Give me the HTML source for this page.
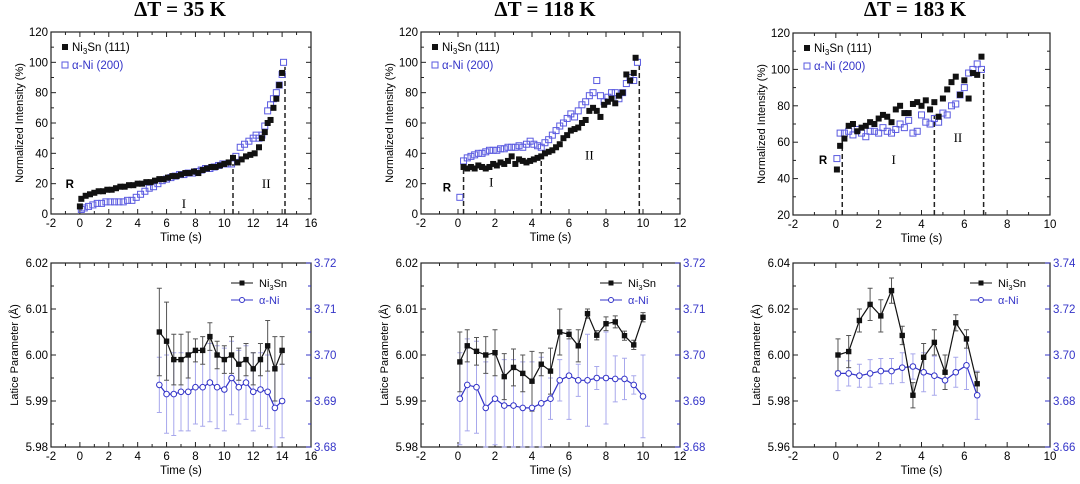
<!DOCTYPE html>
<html><head><meta charset="utf-8"><style>
body{margin:0;background:#fff;width:1080px;height:484px;overflow:hidden}
svg{display:block;font-family:"Liberation Sans",sans-serif}
.ttl{font-family:"Liberation Serif",serif;font-weight:bold;font-size:21px}
.tk{font-size:11.5px}
.rn{font-family:"Liberation Serif",serif;font-size:13px}
</style></head><body>
<svg id="fig" width="1080" height="484" viewBox="0 0 1080 484"></svg>
<script>
// ---- Panel 1 (ΔT=35K) intensity ----
const p1NiSnT=[0,0.1,0.4,0.7,1,1.3,1.6,1.9,2.2,2.5,2.8,3.1,3.4,3.7,4,4.3,4.6,4.9,5.2,5.5,5.8,6.1,6.4,6.7,7,7.3,7.6,7.9,8.2,8.5,8.8,9.1,9.4,9.7,10,10.3,10.6,10.9,11.2,11.5,11.8,12.1,12.4,12.6,12.8,13,13.2,13.4,13.6,13.8,14];
const p1NiSnV=[5,10,12,13,14,15,15,16,16,17,18,18,19,19,20,20,21,21,22,23,23,24,25,25,26,27,27,28,27,29,30,31,31,32,33,34,37,34,36,38,39,40,44,50,54,60,62,70,76,85,93];
const p1NiT=[0.1,0.3,0.6,0.9,1.2,1.5,1.8,2.1,2.4,2.7,3,3.3,3.6,3.9,4.2,4.5,4.8,5.1,5.4,5.7,6,6.3,6.6,6.9,7.2,7.5,7.8,8.1,8.4,8.7,9,9.3,9.6,9.9,10.2,10.5,10.8,11.1,11.4,11.7,12,12.2,12.4,12.6,12.8,13,13.2,13.4,13.6,13.8,14,14.1];
const p1NiV=[3,4,5,6,7,7,8,8,8,8,8,9,9,11,13,15,17,18,20,22,23,24,25,26,26,27,27,28,29,30,30,31,32,33,33,33,38,44,46,48,50,52,50,52,58,68,72,76,80,85,92,100];
const p1Dash=[[10.6,33],[14.2,97]];
// ---- Panel 2 (ΔT=118K) intensity ----
const p2NiSnT=[0.3,0.5,0.7,0.9,1.1,1.3,1.5,1.7,1.9,2.1,2.3,2.5,2.7,2.9,3.1,3.3,3.5,3.7,3.9,4.1,4.3,4.5,4.7,4.9,5.1,5.3,5.5,5.7,5.9,6.1,6.3,6.5,6.7,6.9,7.1,7.3,7.5,7.7,7.9,8.1,8.3,8.5,8.7,8.9,9.1,9.3,9.5,9.6];
const p2NiSnV=[31,30,31,30,32,31,30,31,33,32,34,33,35,38,33,36,35,34,35,36,37,38,40,41,42,44,46,50,52,55,56,57,60,62,68,70,68,64,72,74,76,73,78,80,92,88,93,103];
const p2NiT=[0.1,0.3,0.5,0.7,0.9,1.1,1.3,1.5,1.7,1.9,2.1,2.3,2.5,2.7,2.9,3.1,3.3,3.5,3.7,3.9,4.1,4.3,4.5,4.7,4.9,5.1,5.3,5.5,5.7,5.9,6.1,6.3,6.5,6.7,6.9,7.1,7.3,7.5,7.7,7.9,8.1,8.3,8.5,8.7,8.9,9.1,9.3,9.5,9.7];
const p2NiV=[11,35,37,38,39,40,40,41,42,42,42,43,43,44,44,44,45,44,46,48,46,45,44,47,49,52,55,58,60,63,66,64,68,72,74,78,80,88,78,74,77,80,80,76,80,86,90,88,100];
const p2Dash=[[0.3,32],[4.5,37],[9.8,100]];
// ---- Panel 3 (ΔT=183K) intensity ----
const p3NiSnT=[0.05,0.2,0.4,0.6,0.8,1,1.2,1.4,1.6,1.8,2,2.2,2.4,2.6,2.8,3,3.2,3.4,3.6,3.8,4,4.2,4.4,4.6,4.8,5,5.2,5.4,5.6,5.8,6,6.2,6.4,6.6,6.8];
const p3NiSnV=[45,58,62,69,70,66,68,69,71,70,73,75,74,71,78,80,76,76,81,82,80,83,78,82,74,84,89,93,96,86,94,84,98,97,107];
const p3NiT=[0.05,0.2,0.4,0.6,0.8,1,1.2,1.4,1.6,1.8,2,2.2,2.4,2.6,2.8,3,3.2,3.4,3.6,3.8,4,4.2,4.4,4.6,4.8,5,5.2,5.4,5.6,5.8,6,6.2,6.4,6.6,6.8];
const p3NiV=[51,65,65,66,64,67,65,63,66,66,65,68,66,65,67,70,68,72,65,66,75,71,70,73,71,76,75,80,81,86,90,98,100,103,100];
const p3Dash=[[0.3,62],[4.6,75],[6.9,100]];
// ---- Lattice panels ----
const l1T=[5.5,6,6.5,7,7.5,8,8.5,9,9.5,10,10.5,11,11.5,12,12.5,13,13.5,14];
const l1SnV=[6.005,6.003,5.999,5.999,6.000,6.001,6.001,6.004,6.000,5.999,6.000,5.998,5.999,5.997,5.999,6.002,5.997,6.001];
const l1SnE=[0.0095,0.0085,0.0055,0.0055,0.005,0.0025,0.003,0.003,0.003,0.003,0.004,0.0035,0.0035,0.0035,0.0035,0.0055,0.007,0.003];
const l1NiV=[3.6935,3.6915,3.6915,3.692,3.692,3.693,3.693,3.694,3.693,3.6925,3.695,3.693,3.694,3.692,3.6925,3.692,3.6885,3.690];
const l1NiE=[0.006,0.0085,0.009,0.0085,0.0085,0.008,0.0085,0.0085,0.009,0.009,0.008,0.008,0.008,0.0085,0.008,0.008,0.009,0.008];
const l2T=[0.1,0.5,1,1.5,2,2.5,3,3.5,4,4.5,5,5.5,6,6.5,7,7.5,8,8.5,9,9.5,10];
const l2SnV=[5.9985,6.002,6.0008,6.0,6.0005,5.9953,5.9973,5.996,5.9943,5.998,5.9965,6.005,6.0045,6.002,6.009,6.0043,6.0068,6.0072,6.0042,6.0022,6.0082];
const l2SnE=[0.0065,0.0035,0.003,0.004,0.005,0.005,0.004,0.004,0.0065,0.0025,0.005,0.005,0.001,0.0035,0.001,0.001,0.0015,0.0013,0.001,0.001,0.001];
const l2NiV=[3.6905,3.6935,3.693,3.6885,3.6905,3.689,3.689,3.6885,3.6885,3.6895,3.6905,3.6945,3.6955,3.6945,3.6945,3.695,3.695,3.6948,3.6948,3.6935,3.691];
const l2NiE=[0.01,0.01,0.01,0.01,0.01,0.01,0.01,0.01,0.01,0.01,0.0045,0.0045,0.0095,0.0035,0.01,0.0025,0.01,0.005,0.0045,0.002,0.009];
const l3T=[0.1,0.6,1.1,1.6,2.1,2.6,3.1,3.6,4.1,4.6,5.1,5.6,6.1,6.6];
const l3SnV=[6.0,6.0015,6.015,6.022,6.017,6.028,6.0085,5.9825,5.999,6.0055,5.9925,6.014,6.007,5.9875];
const l3SnE=[0.007,0.007,0.005,0.007,0.007,0.0055,0.004,0.0055,0.006,0.0055,0.0075,0.0035,0.004,0.005];
const l3NiV=[3.692,3.692,3.691,3.692,3.693,3.693,3.6945,3.695,3.6925,3.691,3.689,3.6925,3.6955,3.6825];
const l3NiE=[0.0075,0.0055,0.005,0.006,0.0055,0.0055,0.0065,0.0055,0.0085,0.0085,0.004,0.0065,0.0105,0.0105];

const NS='http://www.w3.org/2000/svg';
const svg=document.getElementById('fig');
const BLUE='#3434c8', LBLUE='#a8a8ec';
function mk(tag,attrs,parent,txt){const e=document.createElementNS(NS,tag);for(const k in attrs)e.setAttribute(k,attrs[k]);if(txt!==undefined)e.textContent=txt;(parent||svg).appendChild(e);return e;}
function lin(a0,a1,p0,p1){return v=>p0+(v-a0)/(a1-a0)*(p1-p0);}
function fmt(v,d){return v.toFixed(d);}

function frame(g,L,R,T,B,xmin,xmax,xstep,ymin,ymax,ystep,yd,rightAxis){
  const X=lin(xmin,xmax,L,R),Y=lin(ymin,ymax,B,T);
  const fr=mk('rect',{x:L,y:T,width:R-L,height:B-T,fill:'none',stroke:'#222','stroke-width':1.2},g);
  
  for(let v=xmin;v<=xmax+1e-9;v+=xstep/2){const maj=Math.abs(((v-xmin)/xstep)%1)<1e-6;const x=X(v),l=maj?5:3;
    mk('line',{x1:x,x2:x,y1:B,y2:B-l,stroke:'#222'},g);mk('line',{x1:x,x2:x,y1:T,y2:T+l,stroke:'#222'},g);
    if(maj){const t=mk('text',{x:x,y:B+13,'text-anchor':'middle',class:'tk'},g,fmt(v,0));}}
  const n=Math.round((ymax-ymin)/ystep);
  for(let i=0;i<=2*n;i++){const v=ymin+i*ystep/2,y=Y(v),maj=i%2==0,l=maj?5:3;
    mk('line',{x1:L,x2:L+l,y1:y,y2:y,stroke:'#222'},g);mk('line',{x1:R,x2:R-l,y1:y,y2:y,stroke:rightAxis?BLUE:'#222'},g);
    if(maj){const t=mk('text',{x:L-3,y:y+4,'text-anchor':'end',class:'tk'},g,fmt(v,yd));}}
  if(rightAxis){const [rmin,rmax]=rightAxis;for(let i=0;i<=n;i++){const v=rmin+i*(rmax-rmin)/n;
    const t=mk('text',{x:R+3,y:Y(ymin+i*ystep)+4,class:'tk',fill:BLUE},g,fmt(v,2));}}
  const xt=mk('text',{x:(L+R)/2,y:B+27,'text-anchor':'middle',class:'tk'},g,'Time (s)');
  
  return {X,Y};
}

function intensity(name,cx,L,R,T,B,xmin,xmax,ymin,title,sT,sV,nT,nV,dash,labels){
  const g=mk('g',{});
  const tt=mk('text',{x:cx,y:16,'text-anchor':'middle',class:'ttl'},g,title);
  const {X,Y}=frame(g,L,R,T,B,xmin,xmax,2,ymin,120,20,0,null);
  const yt=mk('text',{transform:`translate(${L-28},${(T+B)/2}) rotate(-90)`,'text-anchor':'middle',style:'font-size:11px'},g,'Normalized Intensity (%)');
  
  dash.forEach(d=>{const l=mk('line',{x1:X(d[0]),x2:X(d[0]),y1:B,y2:Y(d[1]),stroke:'#222','stroke-width':1.5,'stroke-dasharray':'5,3'},g);});
  nT.forEach((t,i)=>{const r=mk('rect',{x:X(t)-3,y:Y(nV[i])-3,width:6,height:6,fill:'none',stroke:'#5a5ae0','stroke-width':1},g);});
  sT.forEach((t,i)=>{const r=mk('rect',{x:X(t)-3,y:Y(sV[i])-3,width:6,height:6,fill:'#111'},g);});
  labels.forEach(lb=>{const t=mk('text',{x:X(lb[1]),y:Y(lb[2]),class:lb[0]=='R'?'tk':'rn','font-weight':lb[0]=='R'?'bold':'normal','text-anchor':'middle'},g,lb[0]);});
  const lg=mk('g',{},g);
  mk('rect',{x:L+11,y:T+12,width:6,height:6,fill:'#111'},lg);
  const a=mk('text',{x:L+21,y:T+19,class:'tk'},lg);
  a.innerHTML='Ni<tspan font-size="8" dy="3">3</tspan><tspan dy="-3">Sn (111)</tspan>';
  mk('rect',{x:L+11,y:T+30,width:6,height:6,fill:'none',stroke:'#5a5ae0'},lg);
  const b=mk('text',{x:L+21,y:T+37,class:'tk',fill:BLUE},lg,'α-Ni (200)');
}

function lattice(name,L,R,T,B,xmin,xmax,ymin,ymax,ystep,rr,tT,sV,sE,nV,nE){
  const g=mk('g',{});
  const {X,Y}=frame(g,L,R,T,B,xmin,xmax,2,ymin,ymax,ystep,2,rr);
  const YR=lin(rr[0],rr[1],B,T);
  const yt=mk('text',{transform:`translate(${L-33},${(T+B)/2}) rotate(-90)`,'text-anchor':'middle',style:'font-size:11px'},g,'Latice Parameter (Å)');
  
  const cl=v=>Math.max(T,Math.min(B,v));
  tT.forEach((t,i)=>{const x=X(t),y1=cl(YR(nV[i]-nE[i])),y2=cl(YR(nV[i]+nE[i]));
    const e=mk('path',{d:`M${x},${y1}V${y2}M${x-2.5},${y1}h5M${x-2.5},${y2}h5`,stroke:LBLUE,fill:'none'},g);});
  tT.forEach((t,i)=>{const x=X(t),y1=cl(Y(sV[i]-sE[i])),y2=cl(Y(sV[i]+sE[i]));
    const e=mk('path',{d:`M${x},${y1}V${y2}M${x-2.5},${y1}h5M${x-2.5},${y2}h5`,stroke:'#555',fill:'none'},g);});
  const nl=mk('polyline',{points:tT.map((t,i)=>X(t)+','+YR(nV[i])).join(' '),fill:'none',stroke:BLUE,'stroke-width':1.2},g);
  const sl=mk('polyline',{points:tT.map((t,i)=>X(t)+','+Y(sV[i])).join(' '),fill:'none',stroke:'#111','stroke-width':1.2},g);
  tT.forEach((t,i)=>{const c=mk('circle',{cx:X(t),cy:YR(nV[i]),r:2.8,fill:'#fff',stroke:BLUE},g);});
  tT.forEach((t,i)=>{const r=mk('rect',{x:X(t)-2.7,y:Y(sV[i])-2.7,width:5.4,height:5.4,fill:'#111'},g);});
  const lg=mk('g',{},g);
  const lx=R-80;
  mk('line',{x1:lx,x2:lx+22,y1:T+20,y2:T+20,stroke:'#111'},lg);mk('rect',{x:lx+8.5,y:T+17.5,width:5,height:5,fill:'#111'},lg);
  const a=mk('text',{x:lx+28,y:T+24,style:'font-size:11px'},lg);
  a.innerHTML='Ni<tspan font-size="7.5" dy="3">3</tspan><tspan dy="-3">Sn</tspan>';
  mk('line',{x1:lx,x2:lx+22,y1:T+37,y2:T+37,stroke:BLUE},lg);mk('circle',{cx:lx+11,cy:T+37,r:2.5,fill:'#fff',stroke:BLUE},lg);
  const b=mk('text',{x:lx+28,y:T+41,style:'font-size:11px',fill:BLUE},lg,'α-Ni');
}

intensity('panel-35k-intensity',180,51,311,32,214,-2,16,0,'ΔT = 35 K',p1NiSnT,p1NiSnV,p1NiT,p1NiV,p1Dash,[['R',-0.7,17],['I',7.2,4],['II',12.9,17]]);
intensity('panel-118k-intensity',545,421,680,32,214,-2,12,0,'ΔT = 118 K',p2NiSnT,p2NiSnV,p2NiT,p2NiV,p2Dash,[['R',-0.6,15],['I',1.8,18],['II',7.1,36]]);
intensity('panel-183k-intensity',915,793,1050,33,215,-2,10,20,'ΔT = 183 K',p3NiSnT,p3NiSnV,p3NiT,p3NiV,p3Dash,[['R',-0.6,48],['I',2.7,48],['II',5.7,60]]);
lattice('panel-35k-lattice',51,311,263,447,-2,16,5.98,6.02,0.01,[3.68,3.72],l1T,l1SnV,l1SnE,l1NiV,l1NiE);
lattice('panel-118k-lattice',421,680,263,447,-2,12,5.98,6.02,0.01,[3.68,3.72],l2T,l2SnV,l2SnE,l2NiV,l2NiE);
lattice('panel-183k-lattice',793,1050,263,447,-2,10,5.96,6.04,0.02,[3.66,3.74],l3T,l3SnV,l3SnE,l3NiV,l3NiE);
</script>
</body></html>
